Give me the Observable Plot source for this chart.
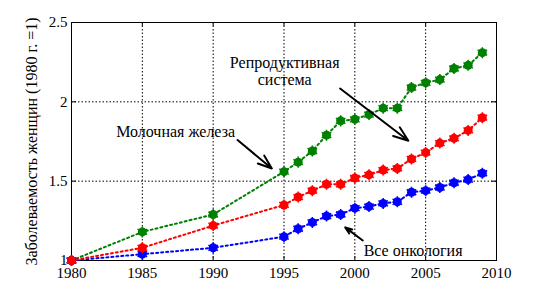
<!DOCTYPE html>
<html><head><meta charset="utf-8">
<script src="https://cdn.jsdelivr.net/npm/d3@7"></script>
<script src="https://cdn.jsdelivr.net/npm/@observablehq/plot@0.6"></script>
<style>
body{margin:0;background:#fff;}
svg, svg text{font-family:"Liberation Serif","Times New Roman",serif !important;}
</style>
</head><body><div id="chart"></div>
<script>
const years = [1980,1985,1990,1995,1996,1997,1998,1999,2000,2001,2002,2003,2004,2005,2006,2007,2008,2009];
const allOncology = [1.00,1.04,1.08,1.15,1.20,1.24,1.28,1.29,1.33,1.34,1.36,1.37,1.43,1.44,1.46,1.49,1.51,1.55];
const breast      = [1.00,1.08,1.22,1.35,1.40,1.44,1.48,1.48,1.52,1.54,1.57,1.58,1.64,1.68,1.74,1.77,1.82,1.90];
const reproductive= [1.00,1.18,1.29,1.56,1.62,1.69,1.79,1.88,1.89,1.92,1.96,1.96,2.09,2.12,2.14,2.21,2.23,2.31];
const xTicks = [1980,1985,1990,1995,2000,2005,2010];
const yTicks = [1,1.5,2,2.5];
const yLabel = "Заболеваемость женщин (1980 г. =1)";
const annotations = [
  {text:"Репродуктивная\nсистема", x:1995.05, y:2.105},
  {text:"Молочная железа", x:1987.35, y:1.777},
  {text:"Все онкология", x:2004.11, y:1.027}
];
const arrows = [
  {x1:1998.96, y1:2.084, x2:2003.78, y2:1.755},
  {x1:1991.72, y1:1.759, x2:1994.14, y2:1.58},
  {x1:2000.56, y1:1.126, x2:1999.32, y2:1.209}
];
const series = [
  {name:"reproductive", values:reproductive, color:"#008000"},
  {name:"all", values:allOncology, color:"#0000ff"},
  {name:"breast", values:breast, color:"#ff0000"}
];
const rows = series.flatMap(s => years.map((yr,i)=>({year:yr, value:s.values[i], name:s.name, color:s.color})));
const innerX = xTicks.slice(1,-1), innerY = yTicks.slice(1,-1);

const marks = [
  Plot.ruleX(innerX, {stroke:"black", strokeDasharray:"1.5,2", strokeWidth:1}),
  Plot.ruleY(innerY, {stroke:"black", strokeDasharray:"1.5,2", strokeWidth:1}),
  Plot.ruleY(yTicks, {x1:1980, x2:1980.35, stroke:"black"}),
  Plot.ruleY(yTicks, {x1:2009.65, x2:2010, stroke:"black"}),
  Plot.ruleX(xTicks, {y1:1, y2:1.025, stroke:"black"}),
  Plot.ruleX(xTicks, {y1:2.475, y2:2.5, stroke:"black"}),
  Plot.frame({stroke:"black"})
];
for (const s of series) {
  const d = rows.filter(r=>r.name===s.name);
  marks.push(Plot.line(d, {x:"year", y:"value", stroke:s.color, strokeWidth:2, strokeDasharray:"2,3"}));
}
for (const s of series) {
  const d = rows.filter(r=>r.name===s.name);
  marks.push(Plot.dot(d, {x:"year", y:"value", r:4.5, fill:s.color, stroke:"none"}));
  marks.push(Plot.dot(d, {x:"year", y:"value", r:5.2, symbol:"asterisk", stroke:s.color, strokeWidth:1.5}));
}
marks.push(Plot.arrow(arrows, {x1:"x1", y1:"y1", x2:"x2", y2:"y2", stroke:"black", strokeWidth:2, headLength:12, headAngle:40}));
marks.push(Plot.text(annotations, {x:"x", y:"y", text:"text", textAnchor:"middle", lineAnchor:"bottom", lineHeight:1.05, fontSize:16, fill:"black"}));

const chart = Plot.plot({
  width:549, height:293,
  marginLeft:71, marginRight:53, marginTop:22, marginBottom:33,
  style:"font-family: 'Liberation Serif', 'Times New Roman', serif; font-size: 15px; color: black; background: white;",
  x:{domain:[1980,2010], ticks:xTicks, tickFormat:d=>String(d), tickSize:0, tickPadding:7, label:null},
  y:{domain:[1,2.5], ticks:yTicks, tickFormat:d=>String(d), tickSize:0, tickPadding:4, label:yLabel, labelAnchor:"center", labelOffset:46, labelArrow:"none"},
  marks
});
chart.querySelectorAll("g[aria-label='y-axis label'] text, g[aria-label='y-axis label']").forEach(e=>e.setAttribute("font-size","16"));
document.getElementById("chart").appendChild(chart);
</script>
</body></html>
